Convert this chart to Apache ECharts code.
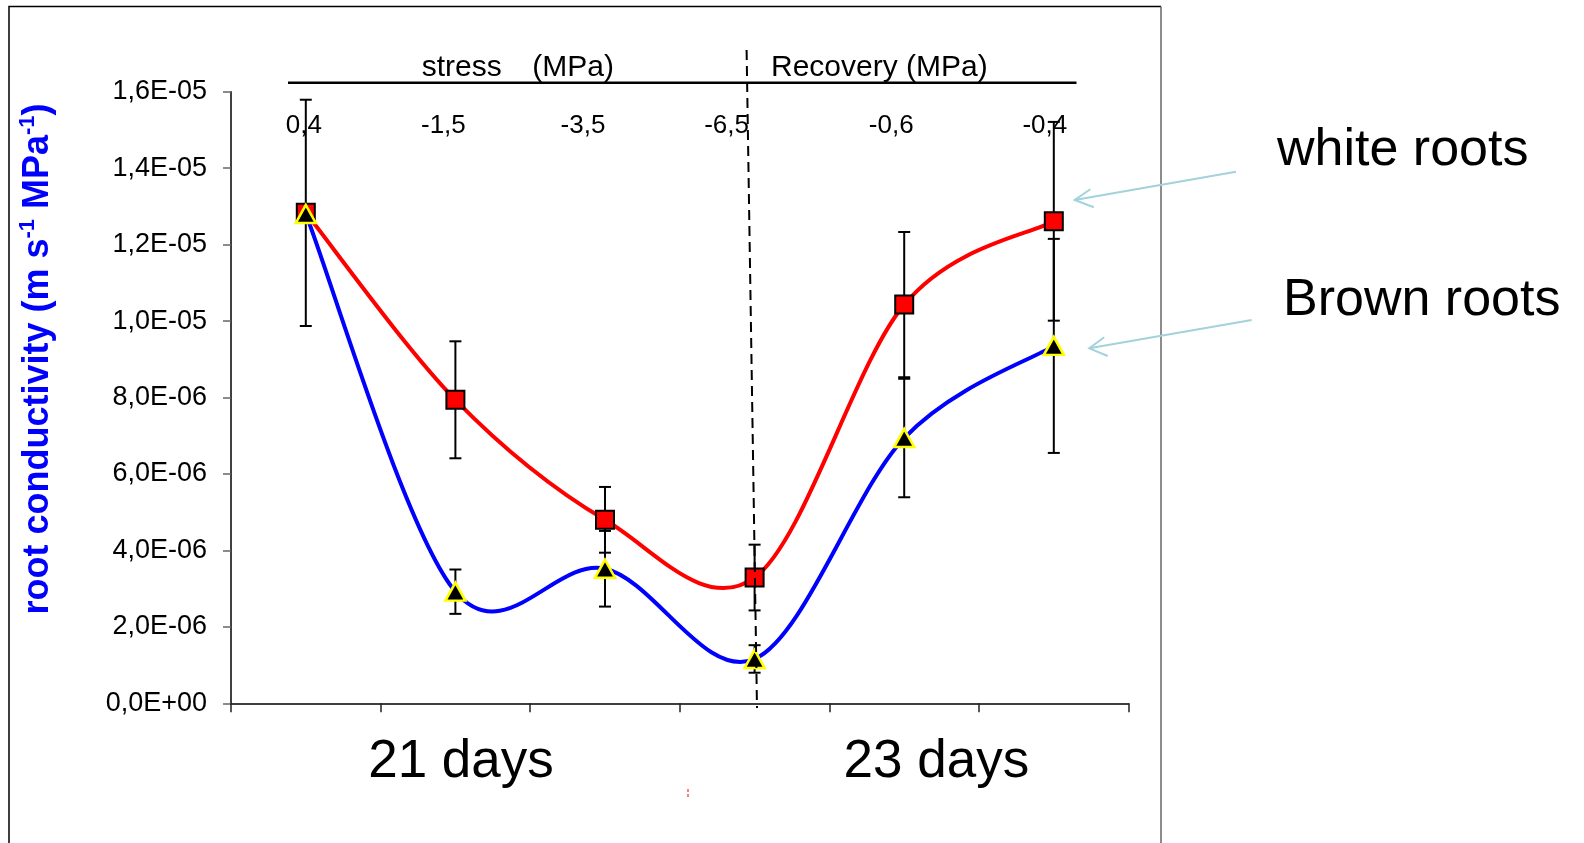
<!DOCTYPE html>
<html>
<head>
<meta charset="utf-8">
<script src="https://cdn.jsdelivr.net/npm/echarts@6/dist/echarts.min.js"></script>
<style>
html,body{margin:0;padding:0;background:#fff;}
#chart{width:1584px;height:843px;}
</style>
</head>
<body>
<div id="chart"></div>
<script>
// ---- data ----
const categories = ['0,4', '-1,5', '-3,5', '-6,5', '-0,6', '-0,4'];   // water potential (MPa), top tick labels
const whiteRoots = [12.83e-6, 7.94e-6, 4.80e-6, 3.29e-6, 10.43e-6, 12.61e-6];
const whiteErr   = [2.96e-6, 1.53e-6, 0.86e-6, 0.86e-6, 1.90e-6, 2.60e-6];
const brownRoots = [12.80e-6, 2.92e-6, 3.52e-6, 1.16e-6, 6.94e-6, 9.35e-6];
const brownErr   = [0, 0.58e-6, 0.99e-6, 0.36e-6, 1.55e-6, 2.80e-6];
const periodLabels = ['21 days', '23 days'];
const seriesLabels = ['white roots', 'Brown roots'];

const FONT = '"Liberation Sans", Arial, sans-serif';

function sciComma(v) {
  if (Math.abs(v) < 1e-20) return '0,0E+00';
  const s = v.toExponential(1).split('e');
  const m = s[0].replace('.', ',');
  let e = parseInt(s[1], 10);
  const sign = e < 0 ? '-' : '+';
  e = Math.abs(e);
  return m + 'E' + sign + (e < 10 ? '0' + e : '' + e);
}

function errData(vals, errs) {
  return vals.map((v, i) => [i, v, errs[i]]);
}

function renderErr(params, api) {
  const x = api.value(0), v = api.value(1), e = api.value(2);
  if (!e) return null;
  const top = api.coord([x, v + e]);
  const bot = api.coord([x, v - e]);
  const h = 6;
  const st = { stroke: '#000', lineWidth: 2 };
  return {
    type: 'group',
    children: [
      { type: 'line', shape: { x1: top[0], y1: top[1], x2: bot[0], y2: bot[1] }, style: st },
      { type: 'line', shape: { x1: top[0] - h, y1: top[1], x2: top[0] + h, y2: top[1] }, style: st },
      { type: 'line', shape: { x1: bot[0] - h, y1: bot[1], x2: bot[0] + h, y2: bot[1] }, style: st }
    ]
  };
}

// Spreadsheet-style smoothed line: cubic Bezier segments, tangents (P[i+1]-P[i-1])/6
function curveRenderer(values, color) {
  return function (params, api) {
    const i = params.dataIndex;
    const n = values.length;
    if (i >= n - 1) return null;
    const P = (k) => {
      const kk = Math.max(0, Math.min(n - 1, k));
      return api.coord([kk, values[kk]]);
    };
    const p0 = P(i - 1), p1 = P(i), p2 = P(i + 1), p3 = P(i + 2);
    return {
      type: 'bezierCurve',
      shape: {
        x1: p1[0], y1: p1[1],
        cpx1: p1[0] + (p2[0] - p0[0]) / 6, cpy1: p1[1] + (p2[1] - p0[1]) / 6,
        cpx2: p2[0] - (p3[0] - p1[0]) / 6, cpy2: p2[1] - (p3[1] - p1[1]) / 6,
        x2: p2[0], y2: p2[1]
      },
      style: { stroke: color, lineWidth: 4, fill: null, lineCap: 'round' }
    };
  };
}

const chart = echarts.init(document.getElementById('chart'), null, { renderer: 'canvas' });

const labelShift = [2, 12, 22, 28, 13, 9];
const rich = {};
labelShift.forEach((d, i) => {
  rich['l' + i] = { fontFamily: FONT, fontSize: 26, color: '#000', padding: [0, 2 * d, 0, 0] };
});

const arrowColor = '#a3d2db';
const fs = { fill: '#000', fontFamily: FONT };

const option = {
  backgroundColor: '#fff',
  animation: false,
  grid: { left: 231, right: 455.4, top: 91.7, bottom: 139.7, containLabel: false },
  xAxis: [
    {
      type: 'category',
      data: categories,
      position: 'bottom',
      boundaryGap: true,
      axisLine: { show: true, lineStyle: { color: '#000', width: 1.5 } },
      axisTick: { show: true, length: 9, lineStyle: { color: '#222', width: 1.5 } },
      axisLabel: { show: false },
      splitLine: { show: false }
    },
    {
      type: 'category',
      data: categories,
      position: 'top',
      boundaryGap: true,
      axisLine: { show: false },
      axisTick: { show: false },
      axisLabel: {
        show: true,
        inside: true,
        margin: 21,
        formatter: (val, idx) => '{l' + idx + '|' + val + '}',
        rich: rich
      },
      splitLine: { show: false }
    }
  ],
  yAxis: {
    type: 'value',
    min: 0,
    max: 1.6e-5,
    interval: 2e-6,
    axisLine: { show: true, lineStyle: { color: '#000', width: 1.5 } },
    axisTick: { show: true, length: 8, lineStyle: { color: '#666', width: 1.5 } },
    axisLabel: {
      margin: 24,
      fontFamily: FONT,
      fontSize: 27,
      color: '#000',
      formatter: sciComma
    },
    splitLine: { show: false }
  },
  series: [
    {
      type: 'custom', name: 'errWhite', xAxisIndex: 0, z: 1,
      renderItem: renderErr, encode: { x: 0, y: 1 },
      data: errData(whiteRoots, whiteErr)
    },
    {
      type: 'custom', name: 'errBrown', xAxisIndex: 0, z: 1,
      renderItem: renderErr, encode: { x: 0, y: 1 },
      data: errData(brownRoots, brownErr)
    },
    {
      type: 'custom', name: seriesLabels[0] + ' curve', xAxisIndex: 0, z: 2,
      renderItem: curveRenderer(whiteRoots, '#ff0000'), encode: { x: 0, y: 1 },
      data: whiteRoots.map((v, i) => [i, v])
    },
    {
      type: 'custom', name: seriesLabels[1] + ' curve', xAxisIndex: 0, z: 2,
      renderItem: curveRenderer(brownRoots, '#0000ff'), encode: { x: 0, y: 1 },
      data: brownRoots.map((v, i) => [i, v])
    },
    {
      type: 'scatter', name: seriesLabels[0], xAxisIndex: 0, z: 3,
      data: whiteRoots.map((v, i) => [i, v]),
      symbol: 'rect', symbolSize: 18,
      itemStyle: { color: '#ff0000', borderColor: '#000', borderWidth: 2, opacity: 1 }
    },
    {
      type: 'scatter', name: seriesLabels[1], xAxisIndex: 0, z: 4,
      data: brownRoots.map((v, i) => [i, v]),
      symbol: 'triangle', symbolSize: [20, 18],
      itemStyle: { color: '#000', borderColor: '#ffff00', borderWidth: 2.5, opacity: 1 }
    }
  ],
  graphic: {
    elements: [
      // outer frame
      { type: 'polyline', z: 100, shape: { points: [[9, 900], [9, 6.5], [1161, 6.5]] }, style: { stroke: '#000', lineWidth: 1.5, fill: null } },
      { type: 'line', z: 100, shape: { x1: 1161, y1: 6.5, x2: 1161, y2: 900 }, style: { stroke: '#666', lineWidth: 1.5 } },
      // top bracket line
      { type: 'line', z: 100, shape: { x1: 288, y1: 82.7, x2: 1076.5, y2: 82.7 }, style: { stroke: '#000', lineWidth: 2.5 } },
      { type: 'text', z: 100, style: Object.assign({ text: 'stress', x: 421.7, y: 68, fontSize: 30, align: 'left', verticalAlign: 'middle' }, fs) },
      { type: 'text', z: 100, style: Object.assign({ text: '(MPa)', x: 532.3, y: 68, fontSize: 30, align: 'left', verticalAlign: 'middle' }, fs) },
      { type: 'text', z: 100, style: Object.assign({ text: 'Recovery (MPa)', x: 771, y: 67.5, fontSize: 30, align: 'left', verticalAlign: 'middle' }, fs) },
      // dashed separator
      { type: 'line', z: 100, shape: { x1: 746.6, y1: 50, x2: 757, y2: 708 }, style: { stroke: '#000', lineWidth: 2, lineDash: [10, 6] } },
      // period labels
      { type: 'text', z: 100, style: Object.assign({ text: periodLabels[0], x: 461, y: 762.5, fontSize: 53, align: 'center', verticalAlign: 'middle' }, fs) },
      { type: 'text', z: 100, style: Object.assign({ text: periodLabels[1], x: 936.4, y: 762.5, fontSize: 53, align: 'center', verticalAlign: 'middle' }, fs) },
      { type: 'line', z: 100, shape: { x1: 688, y1: 789, x2: 688, y2: 798 }, style: { stroke: '#ff0000', lineWidth: 1, lineDash: [3, 2] } },
      // series annotations
      { type: 'text', z: 100, style: Object.assign({ text: seriesLabels[0], x: 1277, y: 151, fontSize: 52, align: 'left', verticalAlign: 'middle' }, fs) },
      { type: 'text', z: 100, style: Object.assign({ text: seriesLabels[1], x: 1283, y: 301, fontSize: 52, align: 'left', verticalAlign: 'middle' }, fs) },
      { type: 'line', z: 100, shape: { x1: 1236, y1: 171.7, x2: 1074.7, y2: 200 }, style: { stroke: arrowColor, lineWidth: 2 } },
      { type: 'polyline', z: 100, shape: { points: [[1090.3, 189.3], [1074.7, 200], [1093.8, 207.3]] }, style: { stroke: arrowColor, lineWidth: 2, fill: null } },
      { type: 'line', z: 100, shape: { x1: 1251.7, y1: 320, x2: 1089.3, y2: 348.3 }, style: { stroke: arrowColor, lineWidth: 2 } },
      { type: 'polyline', z: 100, shape: { points: [[1104.2, 337.3], [1089.3, 348.3], [1107.7, 356]] }, style: { stroke: arrowColor, lineWidth: 2, fill: null } },
      // y-axis title
      {
        type: 'text', z: 100, x: 36.5, y: 359, rotation: Math.PI / 2,
        style: {
          text: '{a|root conductivity (m s}{s|-1}{a| MPa}{s|-1}{a|)}',
          align: 'center', verticalAlign: 'middle',
          rich: {
            a: { fontFamily: FONT, fontSize: 36, fontWeight: 'bold', fill: '#0000ff', color: '#0000ff', verticalAlign: 'bottom', lineHeight: 40 },
            s: { fontFamily: FONT, fontSize: 22, fontWeight: 'bold', fill: '#0000ff', color: '#0000ff', verticalAlign: 'top', lineHeight: 40 }
          }
        }
      }
    ]
  }
};

chart.setOption(option);
</script>
</body>
</html>
